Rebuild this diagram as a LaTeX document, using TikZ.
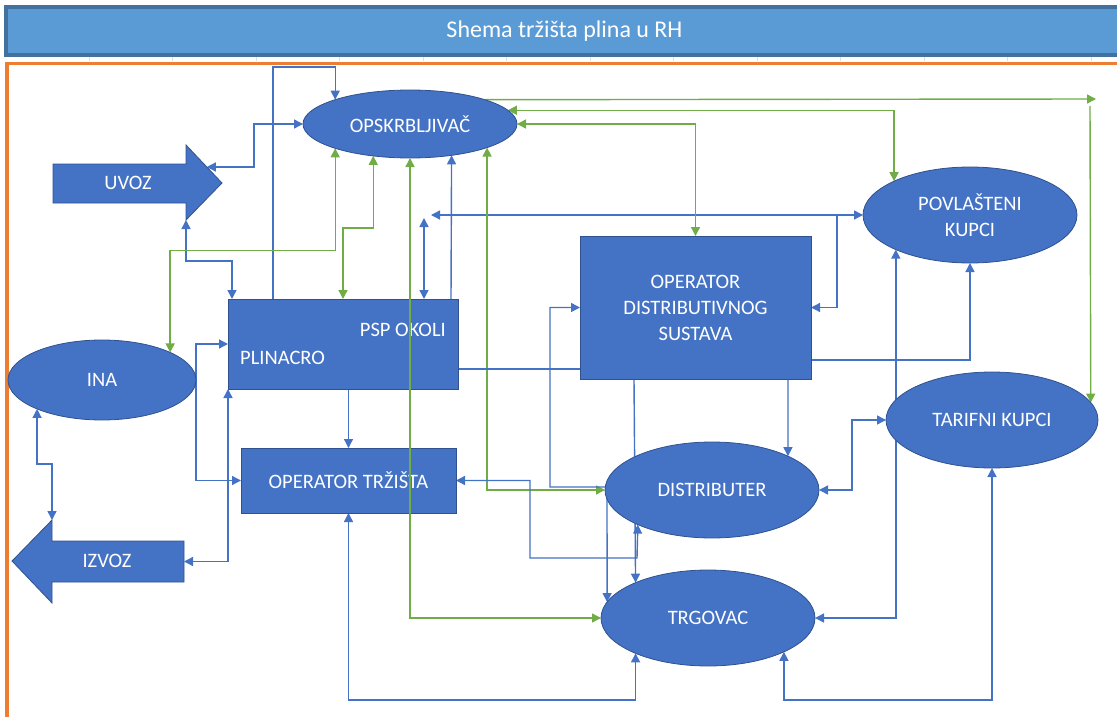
\documentclass[tikz,border=0pt]{standalone}
\usepackage{fontspec}
\setmainfont{Carlito}
\usetikzlibrary{shapes.geometric,arrows.meta,calc}
\pgfdeclarelayer{bg}
\pgfsetlayers{bg,main}
\definecolor{nodeblue}{HTML}{4472C4}
\definecolor{edgeblue}{HTML}{2F528F}
\definecolor{lineblue}{HTML}{4472C4}
\definecolor{linegreen}{HTML}{70AD47}
\definecolor{titlefill}{HTML}{5B9BD5}
\definecolor{titleedge}{HTML}{41719C}
\definecolor{orangeline}{HTML}{ED7D31}
\newcommand\lblfont{\fontsize{20.5}{26}\selectfont}
\newcommand\ttlfont{\fontsize{24}{28}\selectfont}
\begin{document}
\begin{tikzpicture}[x=1pt,y=-1pt,>={Triangle[length=9pt,width=9pt]},
  el/.style={ellipse,draw=edgeblue,fill=nodeblue,line width=0.8pt,inner sep=0pt,outer sep=0pt,text=white,font=\lblfont,align=center},
  bx/.style={rectangle,draw=edgeblue,fill=nodeblue,line width=0.8pt,inner sep=0pt,outer sep=0pt,text=white,font=\lblfont,align=center},
  txt/.style={inner sep=0pt,text=white,font=\lblfont,align=center},
  bl/.style={draw=lineblue,line width=1.4pt},
  gr/.style={draw=linegreen,line width=1.4pt},
  barrow/.style={fill=nodeblue,draw=edgeblue,line width=0.8pt}]
\useasboundingbox (0,0) rectangle (1117,717);
\clip (0,0) rectangle (1117,717);

% title bar
\draw[titleedge,line width=4pt,fill=titlefill] (5.5,7) rectangle (1140,55.5);
\node[inner sep=0pt,text=white,font=\ttlfont] (title) at (564.5,31) {Shema tržišta plina u RH};
\foreach \i in {0,...,12} \draw[gray!25,line width=0.6pt] ({89+83.5*\i},57.5) -- ++(0,4);
\draw[orangeline,line width=3.5pt] (1130,63.5) -- (7,63.5) -- (7,725);

% nodes
\node[el,minimum width=214pt,minimum height=68pt] (opskr) at (410,124) {OPSKRBLJIVAČ};
\node[el,minimum width=214pt,minimum height=96pt] (povl) at (970,215) {POVLAŠTENI\\KUPCI};
\node[el,minimum width=212pt,minimum height=96pt] (tarif) at (992,420) {TARIFNI KUPCI};
\node[el,minimum width=214pt,minimum height=96pt] (distr) at (712,490) {DISTRIBUTER};
\node[el,minimum width=214pt,minimum height=96pt] (trg) at (708,618) {TRGOVAC};
\node[el,minimum width=188pt,minimum height=80pt] (ina) at (102,380) {INA};
\node[bx,minimum width=230pt,minimum height=90pt] (plin) at (343,344) {};
\node[txt,anchor=east] (psp) at (446,330) {PSP OKOLI};
\node[txt,anchor=west] (plinacro) at (240,358) {PLINACRO};
\node[bx,minimum width=215pt,minimum height=65pt] (ot) at (348.5,480.5) {OPERATOR TRŽIŠTA};
\node[bx,minimum width=231pt,minimum height=143pt] (ods) at (695.5,307.5) {OPERATOR\\DISTRIBUTIVNOG\\SUSTAVA};

% block arrows
\filldraw[barrow] (53,164) -- (186,164) -- (186,145) -- (222,183) -- (186,220) -- (186,203) -- (53,203) -- cycle;
\node[txt] (uvoz) at (128,183) {UVOZ};
\filldraw[barrow] (184,541) -- (52,541) -- (52,520) -- (12,561) -- (52,603) -- (52,582) -- (184,582) -- cycle;
\node[txt] (izvoz) at (107,561) {IZVOZ};

\coordinate (uvA) at (206.8,167);
\coordinate (uvB) at (186,220);
\coordinate (izA) at (52,520);
\coordinate (izB) at (184,561.5);
\coordinate (pspTop) at ([xshift=196pt,yshift=81pt]plin.north west);
\coordinate (brk) at ([xshift=-26pt]povl.west);
\coordinate (freeL) at (431,215);
\coordinate (freeR) at (1096,99);
\coordinate (tarTop) at (1090,106);
\coordinate (jn) at (607,487);
\coordinate (jn2) at (637,558);

% connectors behind the nodes
\begin{pgfonlayer}{bg}
\draw[bl,->] ([xshift=45pt]plin.north west) -- ++(0,-232) -| (opskr.162);
\draw[bl,<->] (uvA) -- ++(47,0) |- (opskr.west);
\draw[bl,<->] (uvB) -- ++(0,41) -| ([xshift=4pt]plin.north west);
\draw[gr,<->] (opskr.-162) -- ++(0,102) -| (ina.22.1);
\draw[gr,<->] (opskr.-139.2) -- ++(0,72) -| (plin.north);
\draw[bl,<->] ([xshift=196pt]plin.north west) -- (pspTop);
\draw[bl,<->] (ods.east) -- ++(26,0) |- (povl.west);
\draw[bl,->] (brk) -- (freeL);
\draw[bl,->] ([xshift=223pt]plin.north west) -- (opskr.-37.45);
\draw[gr,<->] (opskr.-17.5) |- (distr.west);
\draw[gr,->] (opskr.18.4) -- (freeR);
\draw[gr,->] (tarTop) -- (tarif.10.6);
\draw[gr,<->] (opskr.8.9) -| (povl.156);
\draw[gr,<->] (opskr.east) -| (ods.north);
\draw[bl] ([yshift=-25pt]plin.east) -- ([yshift=-25pt]plin.east -| ods.west);
\draw[bl,<->] (ods.west) -- ++(-30,0) |- (jn) -- (trg.171.1);
\draw[bl,->] ([xshift=54pt]ods.south west) -- (trg.154.9);
\draw[bl,<->] (ot.east) -- ++(74,0) |- (jn2) -- (distr.-155.5);
\draw[bl,->] ([xshift=-23pt]ods.south east) -- (distr.24);
\draw[bl,->] ([yshift=19pt]ods.south east) -| (povl.south);
\draw[bl,<->] (trg.east) -| (povl.-155.5);
\draw[bl,<->] (distr.east) -- ++(33,0) |- (tarif.west);
\draw[bl,<->] (tarif.south) -- ++(0,232) -| (trg.-24);
\draw[bl,<->] (ot.south) -- ++(0,187) -| (trg.-154.3);
\draw[bl,->] (plin.south -| ot.north) -- (ot.north);
\draw[bl,->] (ina.east) |- (plin.west);
\draw[bl,->] (ina.east) |- (ot.west);
\draw[bl,<->] (ina.-156) -- ++(0,55) -| (izA);
\draw[bl,<->] (plin.south west) |- (izB);
\end{pgfonlayer}

% green line drawn over the boxes
\draw[gr,<->] (opskr.south) |- (trg.west);
\end{tikzpicture}
\end{document}
